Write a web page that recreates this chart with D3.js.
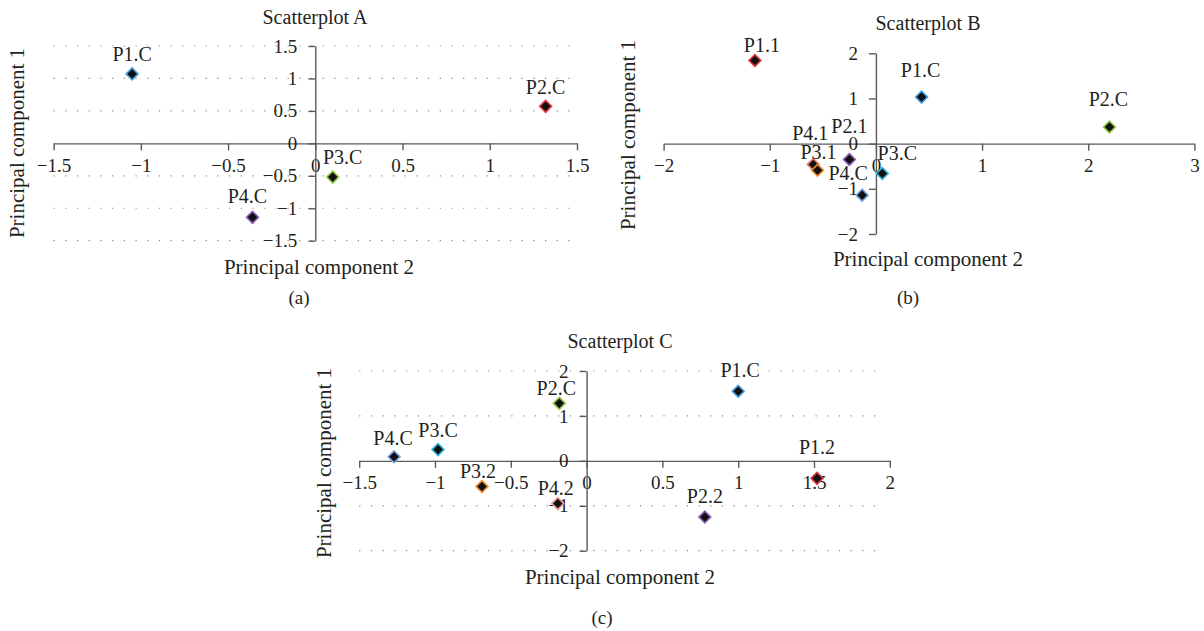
<!DOCTYPE html>
<html>
<head>
<meta charset="utf-8">
<script src="https://cdn.jsdelivr.net/npm/d3@7"></script>
<style>
  html, body { margin: 0; padding: 0; background: #fff; }
  svg { display: block; font-family: 'Liberation Serif', 'Times New Roman', serif; }
  .tick text { fill: #231f20; }
</style>
</head>
<body>
<svg id="chart" width="1204" height="631"></svg>
<script>
// ---- data ----

// Scatterplot A
const labelsA = ['P1.C', 'P2.C', 'P3.C', 'P4.C']
const pc2A = [-1.05, 1.32, 0.10, -0.36]
const pc1A = [1.07, 0.57, -0.52, -1.14]
const xTicksA = [-1.5, -1, -0.5, 0, 0.5, 1, 1.5]
const yTicksA = [-1.5, -1, -0.5, 0, 0.5, 1, 1.5]
const gridA = [1.5, 1, 0.5, -0.5, -1, -1.5]

// Scatterplot B
const labelsB = ['P1.1', 'P1.C', 'P2.C', 'P2.1', 'P4.1', 'P3.1', 'P3.C', 'P4.C']
const pc2B = [-1.14, 0.43, 2.20, -0.25, -0.59, -0.55, 0.06, -0.13]
const pc1B = [1.84, 1.03, 0.37, -0.35, -0.46, -0.59, -0.66, -1.14]
const xTicksB = [-2, -1, 0, 1, 2, 3]
const yTicksB = [-2, -1, 0, 1, 2]
const gridB = []

// Scatterplot C
const labelsC = ['P1.C', 'P2.C', 'P4.C', 'P3.C', 'P3.2', 'P4.2', 'P2.2', 'P1.2']
const pc2C = [1.00, -0.18, -1.27, -0.98, -0.69, -0.19, 0.78, 1.52]
const pc1C = [1.55, 1.28, 0.09, 0.25, -0.57, -0.95, -1.25, -0.39]
const xTicksC = [-1.5, -1, -0.5, 0, 0.5, 1, 1.5, 2]
const yTicksC = [-2, -1, 0, 1, 2]
const gridC = [2, 1, -1, -2]

// ---- styles / layout ----

const BLUE = '#3f9de0', RED = '#e5323b', GREEN = '#8cc63f', PURPLE = '#8a5bb8',
      SALMON = '#e47c6c', ORANGE = '#f28a25', CYAN = '#27b4d6', STEEL = '#74a2dc',
      PINK = '#f29393'

const TEXT = '#231f20'
const AXIS = '#5a5a5a'

const panels = [
  {
    title: 'Scatterplot A', caption: '(a)',
    labels: labelsA, xs: pc2A, ys: pc1A, xTicks: xTicksA, yTicks: yTicksA, grid: gridA,
    colors: [BLUE, RED, GREEN, PURPLE],
    nudge: [[0, -20], [0, -19], [10, -20], [-5, -21]],
    x: [-1.5, 1.5], xr: [53.6, 577], y: [-1.5, 1.5], yr: [240.7, 46], gridEnd: 573,
    titlePos: [315, 17], xTitlePos: [319, 267], yTitlePos: [17, 143], captionPos: [299, 297]
  },
  {
    title: 'Scatterplot B', caption: '(b)',
    labels: labelsB, xs: pc2B, ys: pc1B, xTicks: xTicksB, yTicks: yTicksB, grid: gridB,
    colors: [RED, BLUE, GREEN, PURPLE, SALMON, ORANGE, CYAN, STEEL],
    nudge: [[7, -16], [-1, -27], [-1, -28], [0, -33], [-3, -31], [1, -18], [15, -20], [-14, -22]],
    x: [-2, 3], xr: [663.6, 1194.4], y: [-2, 2], yr: [234, 53.3], gridEnd: 0,
    titlePos: [928, 23], xTitlePos: [928, 259], yTitlePos: [628, 135], captionPos: [908, 297]
  },
  {
    title: 'Scatterplot C', caption: '(c)',
    labels: labelsC, xs: pc2C, ys: pc1C, xTicks: xTicksC, yTicks: yTicksC, grid: gridC,
    colors: [BLUE, GREEN, STEEL, CYAN, ORANGE, PINK, PURPLE, RED],
    nudge: [[2, -21], [-3, -15], [-1, -19], [0, -20], [-4, -15], [-2, -16], [0, -21], [0, -31]],
    x: [-1.5, 2], xr: [359.2, 889.8], y: [-2, 2], yr: [550.7, 371], gridEnd: 879,
    titlePos: [620, 341], xTitlePos: [620, 577], yTitlePos: [324, 463], captionPos: [602, 617]
  }
]

const fmt = (d) => (d < 0 ? '\u2212' : '') + Math.abs(d)
const diamond = d3.symbol().type(d3.symbolSquare).size(70)

const svgRoot = d3.select('#chart')

panels.forEach((p) => {
  let x = d3.scaleLinear().domain(p.x).range(p.xr)
  let y = d3.scaleLinear().domain(p.y).range(p.yr)
  let g = svgRoot.append('g')

  // dotted grid
  g.append('g').selectAll('line').data(p.grid).join('line')
    .attr('x1', p.xr[0]).attr('x2', p.gridEnd)
    .attr('y1', (d) => y(d)).attr('y2', (d) => y(d))
    .attr('stroke', '#8a8a8a').attr('stroke-width', 1.2)
    .attr('stroke-dasharray', '1.2,10.5')

  // x axis through y = 0
  let xAxis = g.append('g')
    .attr('transform', 'translate(0,' + y(0) + ')')
    .call(d3.axisBottom(x).tickValues(p.xTicks).tickFormat(fmt).tickSize(7).tickSizeOuter(0).tickPadding(8))
  // y axis through x = 0
  let yAxis = g.append('g')
    .attr('transform', 'translate(' + x(0) + ',0)')
    .call(d3.axisLeft(y).tickValues(p.yTicks).tickFormat(fmt).tickSize(7).tickSizeOuter(0).tickPadding(11))

  ;[xAxis, yAxis].forEach((a) => {
    a.attr('font-family', null).attr('font-size', 19)
    a.selectAll('path, line').attr('stroke', AXIS).attr('stroke-width', 1.4)
    a.selectAll('text').attr('fill', TEXT)
  })

  // points
  let pts = p.labels.map((l, i) => ({ label: l, px: p.xs[i], py: p.ys[i], color: p.colors[i], nudge: p.nudge[i] }))
  g.append('g').selectAll('path').data(pts).join('path')
    .attr('d', diamond)
    .attr('transform', (d) => 'translate(' + x(d.px) + ',' + y(d.py) + ') rotate(45)')
    .attr('fill', '#111')
    .attr('stroke', (d) => d.color)
    .attr('stroke-width', 1.6)

  g.append('g').selectAll('text').data(pts).join('text')
    .attr('x', (d) => x(d.px) + d.nudge[0])
    .attr('y', (d) => y(d.py) + d.nudge[1])
    .attr('dy', '0.35em')
    .attr('text-anchor', 'middle')
    .attr('font-size', 20)
    .attr('fill', TEXT)
    .text((d) => d.label)

  // titles
  g.append('text')
    .attr('x', p.titlePos[0]).attr('y', p.titlePos[1]).attr('dy', '0.35em')
    .attr('text-anchor', 'middle').attr('font-size', 20).attr('fill', TEXT)
    .text(p.title)
  g.append('text')
    .attr('x', p.xTitlePos[0]).attr('y', p.xTitlePos[1]).attr('dy', '0.35em')
    .attr('text-anchor', 'middle').attr('font-size', 21).attr('fill', TEXT)
    .text('Principal component 2')
  g.append('text')
    .attr('transform', 'translate(' + p.yTitlePos[0] + ',' + p.yTitlePos[1] + ') rotate(-90)')
    .attr('dy', '0.35em')
    .attr('text-anchor', 'middle').attr('font-size', 21).attr('fill', TEXT)
    .text('Principal component 1')
  g.append('text')
    .attr('x', p.captionPos[0]).attr('y', p.captionPos[1]).attr('dy', '0.35em')
    .attr('text-anchor', 'middle').attr('font-size', 19).attr('fill', TEXT)
    .text(p.caption)
})
</script>
</body>
</html>
